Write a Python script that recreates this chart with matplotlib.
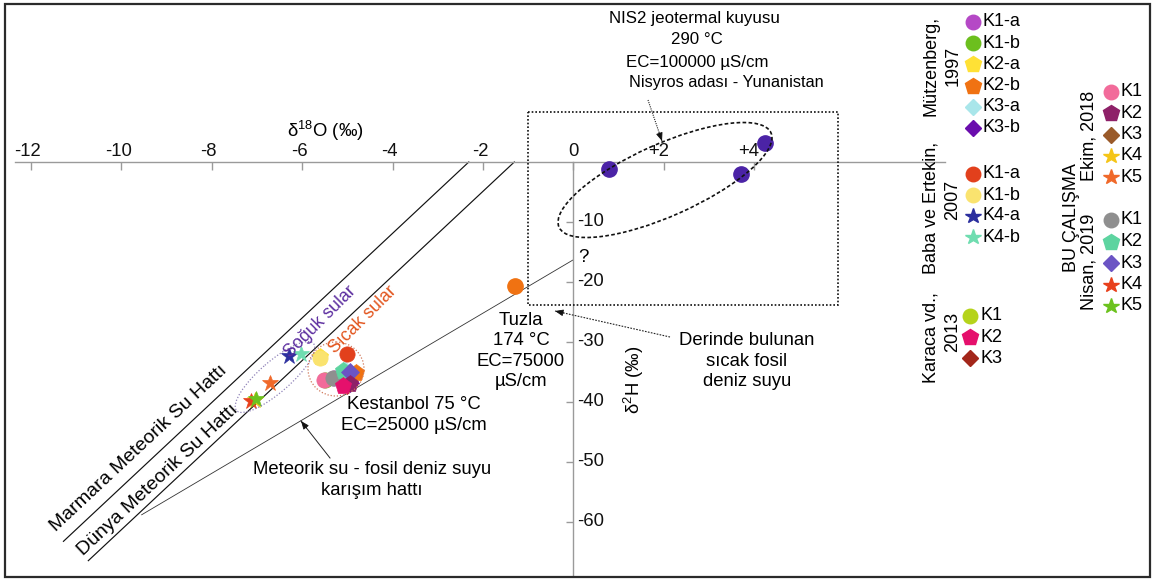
import numpy as np
import matplotlib
matplotlib.use("Agg")
import matplotlib.pyplot as plt
from matplotlib.patches import Ellipse, Rectangle

plt.rcParams['font.family'] = ['Liberation Sans', 'DejaVu Sans']
plt.rcParams['mathtext.fontset'] = 'custom'
plt.rcParams['mathtext.rm'] = 'Liberation Sans'
plt.rcParams['mathtext.default'] = 'regular'

# ---------------- data: δ18O and δ2H (‰) ----------------
o18_ticks = [-12, -10, -8, -6, -4, -2, 0, 2, 4]
o18_ticklabels = ["-12", "-10", "-8", "-6", "-4", "-2", "0", "+2", "+4"]
h2_ticks = [-10, -20, -30, -40, -50, -60]
h2_ticklabels = ["-10", "-20", "-30", "-40", "-50", "-60"]

# reference lines: δ2H = slope * δ18O + intercept
marmara_mwl = (7.05, 16.3)
global_mwl = (7.05, 9.2)
mixing_line = (4.45, -16.3)

nis2_o18 = [0.8, 3.7, 4.25]
nis2_h2 = [-1.2, -2.0, 3.1]
tuzla_o18 = [-1.3]
tuzla_h2 = [-20.7]

mutz_labels = ["K1-a", "K1-b", "K2-a", "K2-b", "K3-a", "K3-b"]
mutz_o18 = [-5.30, -5.50, -5.60, -4.81, -5.05, -4.95]
mutz_h2 = [-36.0, -36.3, -32.5, -35.2, -34.6, -36.9]

baba_labels = ["K1-a", "K1-b", "K4-a", "K4-b"]
baba_o18 = [-5.00, -5.60, -6.28, -6.02]
baba_h2 = [-32.0, -32.6, -32.4, -32.0]

karaca_labels = ["K1", "K2", "K3"]
karaca_o18 = [-5.10, -5.09, -5.00]
karaca_h2 = [-35.6, -37.4, -37.1]

ekim_labels = ["K1", "K2", "K3", "K4", "K5"]
ekim_o18 = [-5.52, -4.95, -5.00, -7.05, -6.71]
ekim_h2 = [-36.3, -37.0, -35.6, -39.6, -36.8]

nisan_labels = ["K1", "K2", "K3", "K4", "K5"]
nisan_o18 = [-5.31, -5.09, -4.94, -7.12, -7.02]
nisan_h2 = [-36.0, -34.9, -35.0, -39.8, -39.5]

# ---------------- styles ----------------
MS = {"o": 11, "p": 12.5, "D": 8.8, "*": 12}
mutz_style = [("o", "#B548C6"), ("o", "#6CBF1E"), ("p", "#FFE135"),
              ("p", "#F07212"), ("D", "#A9E6EA"), ("D", "#6A0DAD")]
baba_style = [("o", "#E2401C"), ("o", "#FAE36F"), ("*", "#2B2F9E"), ("*", "#6FDDB0")]
karaca_style = [("o", "#B5D31B"), ("p", "#E5106C"), ("D", "#A3261A")]
ekim_style = [("o", "#F26B9A"), ("p", "#8E2068"), ("D", "#9A5A2A"),
              ("*", "#F5C518"), ("*", "#F0692A")]
nisan_style = [("o", "#8F8F8F"), ("p", "#5DD4A0"), ("D", "#6B54C4"),
               ("*", "#E8401C"), ("*", "#6CC21E")]

W, H = 1153, 579
fig = plt.figure(figsize=(W / 100, H / 100), dpi=100)

# data axes covering the whole figure, origin placed inside it
X0, SX = 573.3, 45.2   # pixel column of δ18O = 0, pixels per ‰
Y0, SY = 162.0, 6.0    # pixel row of δ2H = 0, pixels per ‰
ax = fig.add_axes([0, 0, 1, 1])
ax.set_xlim(-X0 / SX, (W - X0) / SX)
ax.set_ylim((Y0 - H) / SY, Y0 / SY)
ax.patch.set_visible(False)

axis_col = "#9a9a9a"
for side in ["top", "right"]:
    ax.spines[side].set_visible(False)
ax.spines["bottom"].set_position(("data", 0))
ax.spines["left"].set_position(("data", 0))
ax.spines["bottom"].set_bounds((15 - X0) / SX, (945 - X0) / SX)
ax.spines["left"].set_bounds((Y0 - 575) / SY, 0)
for side in ["bottom", "left"]:
    ax.spines[side].set_color(axis_col)
    ax.spines[side].set_linewidth(1.0)
ax.set_xticks(o18_ticks)
ax.set_yticks(h2_ticks)
ax.tick_params(axis="x", bottom=True, top=False, labelbottom=False, labeltop=False,
               direction="out", length=6, width=1.0, color=axis_col)
ax.tick_params(axis="y", left=True, right=False, labelleft=False, labelright=False,
               direction="out", length=5, width=1.0, color=axis_col)

FS = 13.3
for v, lab in zip(o18_ticks, o18_ticklabels):
    shift = 3.9 if lab.startswith("+") else (2.2 if lab.startswith("-") else 0)
    ax.annotate(lab, (v, 0), xytext=(-shift, 1.5), textcoords="offset points",
                ha="center", va="bottom", fontsize=FS, color="#111")
for v, lab in zip(h2_ticks, h2_ticklabels):
    ax.annotate(lab, (0, v), xytext=(2.5, 0), textcoords="offset points",
                ha="left", va="center", fontsize=FS, color="#111")

# meteoric water lines, ending on the δ18O axis
def draw_line(params, x_start, x_end=None, **kw):
    slope, icpt = params
    if x_end is None:
        x_end = -icpt / slope
    xs = np.array([x_start, x_end])
    ax.plot(xs, slope * xs + icpt, **kw)

draw_line(marmara_mwl, -11.28, color="#111", lw=0.85, zorder=2)
draw_line(global_mwl, -10.73, color="#111", lw=0.85, zorder=2)
draw_line(mixing_line, -9.55, 0.0, color="#333", lw=0.6, zorder=2)

# samples
def draw_group(o18, h2, styles, z):
    for x, y, (m, c), zz in zip(o18, h2, styles, z):
        ax.plot(x, y, marker=m, ms=MS[m], color=c, mec=c, mew=0.5, ls="none", zorder=zz)

draw_group(mutz_o18, mutz_h2, mutz_style, [3, 3, 3, 5.5, 3, 3])
draw_group(karaca_o18, karaca_h2, karaca_style, [3.2, 7, 3.2])
draw_group(ekim_o18, ekim_h2, ekim_style, [5, 6.5, 3.2, 3.2, 5])
draw_group(baba_o18, baba_h2, baba_style, [5, 5, 5, 5])
draw_group(nisan_o18, nisan_h2, nisan_style, [5.2, 5.4, 5.6, 5, 5.3])
ax.plot(nis2_o18, nis2_h2, "o", ms=11, color="#4B23A6", zorder=5)
ax.plot(tuzla_o18, tuzla_h2, "o", ms=11, color="#F07212", zorder=5)

# ---------------- pixel overlay for notes and legend ----------------
ov = fig.add_axes([0, 0, 1, 1], zorder=3)
ov.set_xlim(0, W)
ov.set_ylim(H, 0)
ov.axis("off")

ov.add_patch(Rectangle((5, 4), 1145, 573, fill=False, ec="#2b2b2b", lw=1.6))
ov.add_patch(Rectangle((528, 112), 310, 193, fill=False, ec="#111", lw=1.2, ls=(0, (1, 1.2))))
ov.add_patch(Ellipse((665, 180), 232, 72, angle=-24, fill=False, ec="#111", lw=1.2,
                     ls=(0, (2.2, 1.4))))
ov.add_patch(Ellipse((275, 377), 102, 31, angle=-41, fill=False, ec="#8f82b8", lw=0.9,
                     ls=(0, (1, 1.5))))
ov.add_patch(Ellipse((336, 369), 56, 54, fill=False, ec="#d0785a", lw=0.9,
                     ls=(0, (1, 1.5))))

def arrow(x0, y0, x1, y1, ls, lw=0.8):
    ov.plot([x0, x1], [y0, y1], color="#222", lw=lw, ls=ls)
    d = np.hypot(x1 - x0, y1 - y0)
    ux, uy = (x1 - x0) / d, (y1 - y0) / d
    ov.annotate("", (x1, y1), (x1 - 9 * ux, y1 - 9 * uy),
                arrowprops=dict(arrowstyle="-|>,head_length=0.5,head_width=0.2",
                                color="#111", lw=0.6, shrinkA=0, shrinkB=0))

arrow(648, 100, 662, 141, (0, (1, 1)))
arrow(670, 337, 555, 311, (0, (1.5, 1.2)))
arrow(330, 458, 301, 421, "-", lw=0.7)

# line names along the meteoric water lines
line_ang = np.degrees(np.arctan(marmara_mwl[0] * SY / SX))
ov.text(141.5, 451.5, "Marmara Meteorik Su Hattı", rotation=line_ang,
        rotation_mode="anchor", ha="center", va="baseline", fontsize=14)
ov.text(161.5, 483.5, "Dünya Meteorik Su Hattı", rotation=line_ang,
        rotation_mode="anchor", ha="center", va="baseline", fontsize=14)

ov.text(694, 18, "NIS2 jeotermal kuyusu", ha="center", va="center", fontsize=12.2)
ov.text(697, 40, "290 °C", ha="center", va="center", fontsize=12.2)
ov.text(697, 62, "EC=100000 µS/cm", ha="center", va="center", fontsize=12.2)
ov.text(726, 82, "Nisyros adası - Yunanistan", ha="center", va="center", fontsize=11.8)

ov.text(521, 351, "Tuzla\n174 °C\nEC=75000\nµS/cm", ha="center", va="center",
        fontsize=FS, linespacing=1.28)
ov.text(747, 361, "Derinde bulunan\nsıcak fosil\ndeniz suyu", ha="center", va="center",
        fontsize=FS, linespacing=1.25)
ov.text(414, 415, "Kestanbol 75 °C\nEC=25000 µS/cm", ha="center", va="center",
        fontsize=FS, linespacing=1.3)
ov.text(372, 480, "Meteorik su - fosil deniz suyu\nkarışım hattı", ha="center",
        va="center", fontsize=FS, linespacing=1.35)
ov.text(583, 257, "?", ha="center", va="center", fontsize=FS)

ov.text(320, 322, "Soğuk sular", rotation=45, rotation_mode="anchor", ha="center",
        va="center", fontsize=12.8, color="#5B2C9F")
ov.text(363, 320, "Sıcak sular", rotation=45, rotation_mode="anchor", ha="center",
        va="center", fontsize=12.8, color="#E2541C")

ov.text(325, 131, "δ$^{18}$O (‰)", ha="center", va="center", fontsize=FS)
ov.text(634, 380, "δ$^{2}$H (‰)", ha="center", va="center", rotation=90, fontsize=FS)

# legend columns
def legend_column(xm, y_first, step, labels, styles):
    for i, (lab, (m, c)) in enumerate(zip(labels, styles)):
        y = y_first + i * step
        ov.plot(xm, y, marker=m, ms=MS[m] * 0.95, color=c, mec=c, ls="none")
        ov.text(xm + 10, y, lab, ha="left", va="center", fontsize=13)

legend_column(973, 22, 21.2, mutz_labels, mutz_style)
legend_column(973, 174, 21.0, baba_labels, baba_style)
legend_column(970, 316, 21.2, karaca_labels, karaca_style)
legend_column(1111, 92, 21.3, ekim_labels, ekim_style)
legend_column(1111, 220, 21.5, nisan_labels, nisan_style)

def vtext(x, y, s):
    ov.text(x, y, s, rotation=90, ha="center", va="center", fontsize=13)

vtext(931, 66, "Mützenberg,")
vtext(953, 66, "1997")
vtext(931, 208, "Baba ve Ertekin,")
vtext(953, 200, "2007")
vtext(931, 338, "Karaca vd.,")
vtext(953, 332, "2013")
vtext(1089, 136, "Ekim, 2018")
vtext(1089, 262, "Nisan, 2019")
vtext(1071, 218, "BU ÇALIŞMA")

fig.savefig("out.png", dpi=100)
